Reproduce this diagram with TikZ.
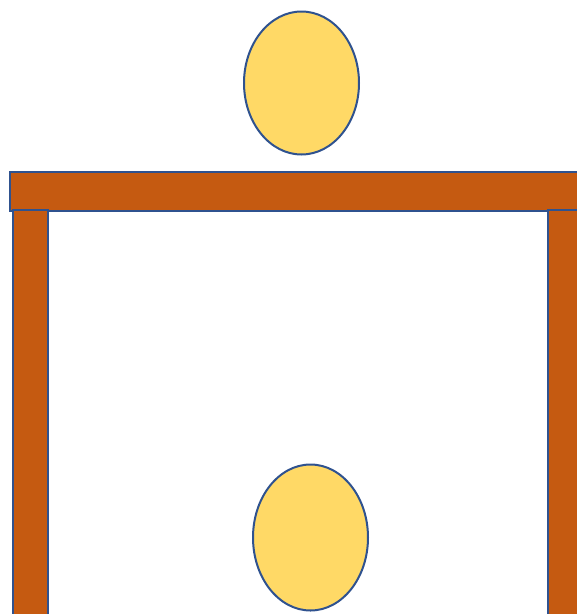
\documentclass[tikz,border=0pt]{standalone}
\usetikzlibrary{shapes.geometric}
\definecolor{wood}{HTML}{C55A11}
\definecolor{edge}{HTML}{2F528F}
\definecolor{ball}{HTML}{FFD966}
\begin{document}
\begin{tikzpicture}[x=1pt,y=-1pt,
  woodpart/.style={fill=wood,draw=edge,line width=2pt},
  ballpart/.style={fill=ball,draw=edge,line width=2pt}]
\useasboundingbox (0,0) rectangle (577,614);
\clip (0,0) rectangle (577,614);
\path[woodpart] (9.5,171.5) rectangle (590,211);
\path[woodpart] (13,210) rectangle (47.5,630);
\path[woodpart] (548,210) rectangle (590,630);
\node[ballpart,ellipse,minimum width=115pt,minimum height=143pt,inner sep=0pt] (top) at (301.5,83) {};
\node[ballpart,ellipse,minimum width=115pt,minimum height=146pt,inner sep=0pt] (bottom) at (310.5,537.5) {};
\end{tikzpicture}
\end{document}
